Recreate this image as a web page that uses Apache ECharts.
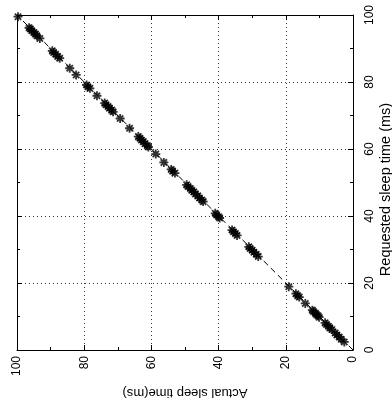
<!DOCTYPE html>
<html lang="en">
<head>
    <meta charset="UTF-8">
    <title>Sleep time</title>
    <script src="https://cdn.jsdelivr.net/npm/echarts@6/dist/echarts.min.js"></script>
    <style>
        html, body { margin: 0; padding: 0; background: #fff; }
    </style>
</head>
<body>
    <div id="chart" style="width: 392px; height: 407px;"></div>
    <script>
        // requested vs actual sleep times (ms)
        var requested = [99.5, 96.2, 95.8, 95.3, 94.8, 94.3, 93.8, 93.0, 89.3, 88.8,
            88.3, 87.6, 87.1, 84.1, 82.1, 79.1, 78.6, 78.1, 75.9, 73.7,
            73.2, 72.7, 72.2, 71.6, 71.1, 69.1, 66.2, 63.7, 63.2, 62.7,
            62.2, 61.6, 61.0, 60.6, 58.5, 56.0, 53.9, 53.4, 52.8, 49.3,
            48.8, 48.2, 47.7, 47.2, 46.6, 46.0, 45.4, 44.8, 44.3, 40.8,
            40.3, 39.8, 39.4, 35.8, 35.3, 34.8, 34.2, 30.8, 30.3, 29.8,
            29.2, 28.6, 27.9, 18.9, 16.8, 16.2, 15.8, 13.9, 11.9, 11.5,
            11.0, 10.6, 10.2, 9.8, 8.1, 7.6, 7.1, 6.6, 6.1, 5.1,
            4.5, 3.9, 3.2, 2.4];
        var actual = [99.7, 96.4, 96.0, 95.6, 95.0, 94.5, 94.1, 93.2, 89.5, 89.1,
            88.5, 87.9, 87.3, 84.3, 82.4, 79.3, 78.9, 78.3, 76.2, 73.9,
            73.5, 72.9, 72.5, 71.8, 71.4, 69.3, 66.5, 63.9, 63.4, 63.0,
            62.4, 61.9, 61.2, 60.9, 58.7, 56.3, 54.1, 53.7, 53.0, 49.5,
            49.1, 48.4, 48.0, 47.4, 46.9, 46.2, 45.7, 45.0, 44.6, 41.0,
            40.6, 40.0, 39.7, 36.0, 35.6, 35.0, 34.5, 31.0, 30.6, 30.0,
            29.5, 28.8, 28.2, 19.1, 17.0, 16.5, 16.0, 14.2, 12.1, 11.8,
            11.2, 10.9, 10.4, 10.1, 8.3, 7.9, 7.3, 6.9, 6.3, 5.3,
            4.8, 4.1, 3.5, 2.6];
        // ideal line actual == requested
        var idealLine = [0, 100];

        var font = '"Liberation Sans", Arial, sans-serif';

        var points = [];
        for (var i = 0; i < requested.length; i++) {
            points.push([actual[i], requested[i]]);
        }
        var linePts = [];
        for (var j = 0; j < idealLine.length; j++) {
            linePts.push([idealLine[j], idealLine[j]]);
        }

        // gnuplot style '*' marker
        var star = 'path://M-1,-5 L1,-5 L1,5 L-1,5 Z M-5,-1 L5,-1 L5,1 L-5,1 Z ' +
            'M-2.8,-4.2 L4.2,2.8 L2.8,4.2 L-4.2,-2.8 Z M2.8,-4.2 L4.2,-2.8 L-2.8,4.2 L-4.2,2.8 Z';

        function mirrorAxis(pos) {
            return {
                type: 'value', position: pos, min: 0, max: 100, interval: 20,
                inverse: pos === 'top',
                axisLine: { show: true, onZero: false, lineStyle: { color: '#000', width: 1 } },
                axisTick: { show: true, inside: true, length: 5, lineStyle: { color: '#000' } },
                minorTick: { show: true, splitNumber: 2, length: 3, lineStyle: { color: '#000' } },
                axisLabel: { show: false },
                splitLine: { show: false }
            };
        }

        var chart = echarts.init(document.getElementById('chart'));
        chart.setOption({
            backgroundColor: '#fff',
            animation: false,
            grid: { left: 17, right: 39, top: 15, bottom: 57, outerBoundsMode: 'none', containLabel: false },
            xAxis: [{
                type: 'value', position: 'bottom', min: 0, max: 100, interval: 20, inverse: true,
                name: 'Actual sleep time(ms)', nameLocation: 'middle', nameGap: 36, nameRotate: 180,
                nameMoveOverlap: false,
                nameTextStyle: { color: '#000', fontSize: 13, fontFamily: font },
                axisLine: { show: true, onZero: false, lineStyle: { color: '#000', width: 1 } },
                axisTick: { show: true, inside: true, length: 5, lineStyle: { color: '#000' } },
                minorTick: { show: true, splitNumber: 2, length: 3, lineStyle: { color: '#000' } },
                axisLabel: { rotate: 90, margin: 6, color: '#000', fontSize: 12, fontFamily: font },
                splitLine: { show: true, lineStyle: { color: '#333', type: [1, 3], width: 1 } }
            }, mirrorAxis('top')],
            yAxis: [{
                type: 'value', position: 'right', min: 0, max: 100, interval: 20,
                name: 'Requested sleep time (ms)', nameLocation: 'middle', nameGap: 25, nameRotate: 90,
                nameMoveOverlap: false,
                nameTextStyle: { color: '#000', fontSize: 14.5, fontFamily: font, padding: [0, 14, 0, 0] },
                axisLine: { show: true, onZero: false, lineStyle: { color: '#000', width: 1 } },
                axisTick: { show: true, inside: true, length: 5, lineStyle: { color: '#000' } },
                minorTick: { show: true, splitNumber: 2, length: 3, lineStyle: { color: '#000' } },
                axisLabel: { rotate: 90, margin: 11, color: '#000', fontSize: 12, fontFamily: font },
                splitLine: { show: true, lineStyle: { color: '#333', type: [1, 3], width: 1 } }
            }, mirrorAxis('left')],
            series: [{
                type: 'line',
                data: linePts,
                symbol: 'none',
                lineStyle: { color: '#000', width: 1, type: [6, 4] },
                z: 2
            }, {
                type: 'scatter',
                data: points,
                symbol: star,
                symbolSize: 9,
                itemStyle: { color: '#000' },
                z: 3
            }]
        });
    </script>
</body>
</html>
